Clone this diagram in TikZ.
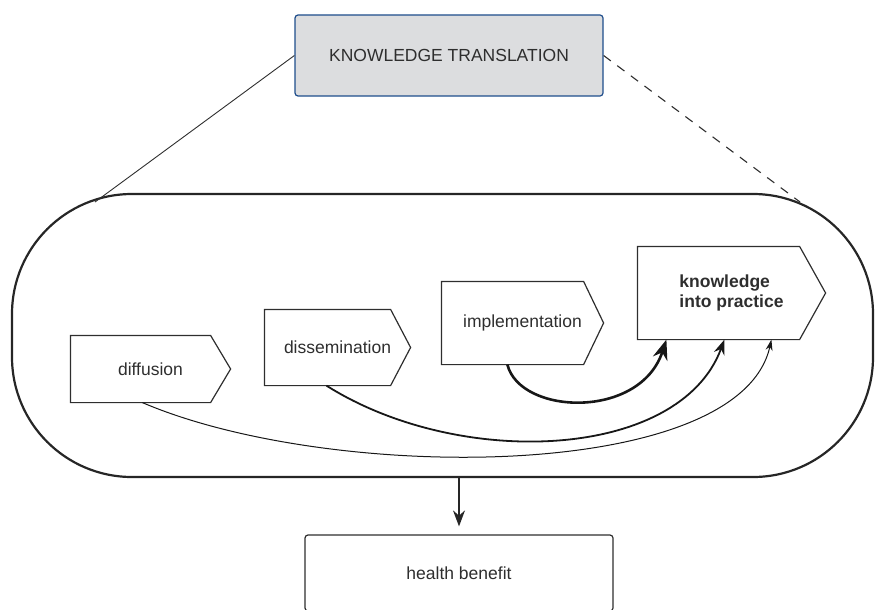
\documentclass[tikz,border=0pt]{standalone}
\usepackage{fontspec}
\setmainfont{Liberation Sans}
\usetikzlibrary{arrows.meta}
\definecolor{ktfill}{HTML}{DCDDDF}
\definecolor{ktblue}{HTML}{1F4E8C}
\definecolor{inkgray}{HTML}{2E2E2E}
\tikzset{%
  >={Stealth[width=12pt,length=16pt]},
  % Specifications for style of nodes:
        base/.style = {rectangle, draw=inkgray, line width=1.2pt, text=inkgray,
                       font=\fontsize{17.5}{20}\selectfont, align=center,
                       inner sep=0pt},
       title/.style = {base, rounded corners=3pt, draw=ktblue, fill=ktfill,
                       minimum width=308pt, minimum height=81pt},
       stage/.style = {base, draw=none, append after command={\pgfextra{%
                       \draw[inkgray, line width=1.2pt] (\tikzlastnode.north west)
                         -- ([xshift=-#1]\tikzlastnode.north east) -- (\tikzlastnode.east)
                         -- ([xshift=-#1]\tikzlastnode.south east) -- (\tikzlastnode.south west) -- cycle;}}},
       stage/.default = 20pt,
     outcome/.style = {base, rounded corners=3pt, minimum width=308pt,
                       minimum height=76pt},
       flow1/.style = {line width=2.6pt, -{Stealth[width=15pt,length=20pt]}},
       flow2/.style = {line width=1.8pt, -{Stealth[width=11pt,length=15pt]}},
       flow3/.style = {line width=1pt, -{Stealth[width=7pt,length=11pt]}},
}

\begin{document}
\begin{tikzpicture}[x=1pt, y=-1pt]
    \useasboundingbox (0,0) rectangle (875,610);

    \node (kt)      [title] at (449,55.5) {KNOWLEDGE TRANSLATION};
    \node (ktscope) [base, draw=black!85, line width=2.2pt, rounded corners=120pt,
                     minimum width=861pt, minimum height=283pt] at (442.5,335.5) {};
    \coordinate (scopeL) at (95,202);
    \coordinate (scopeR) at (800,202);

    \draw[inkgray, line width=0.9pt] (kt.west) -- (scopeL);
    \draw[inkgray, line width=1.1pt, dash pattern=on 9pt off 8pt] (kt.east) -- (scopeR);

    % stages
    \node (diff) [stage, minimum width=159pt, minimum height=66pt] at (150.5,369)  {diffusion};
    \node (diss) [stage, minimum width=145pt, minimum height=75pt] at (337.5,347.5) {dissemination};
    \node (impl) [stage, minimum width=161pt, minimum height=82pt] at (522.5,323)  {implementation};
    \node (kip)  [stage=26pt, minimum width=187pt, minimum height=92pt, align=left,
                  font=\fontsize{17.5}{20}\selectfont\bfseries] at (731.5,293) {knowledge\\into practice};

    \draw[inkgray!50!black, flow1] ([xshift=66pt]impl.south west) .. controls (520,415) and (640,420) .. ([xshift=29pt]kip.south west);
    \draw[inkgray!50!black, flow2] ([xshift=62pt]diss.south west) .. controls (460,470) and (680,460) .. ([xshift=87pt]kip.south west);
    \draw[inkgray!50!black, flow3] ([xshift=72pt]diff.south west) .. controls (330,483) and (740,483) .. ([xshift=134pt]kip.south west);

    \node (hb) [outcome] at (459,573) {health benefit};
    \draw[->, black!85, line width=1.6pt, shorten >=8pt] (hb.north |- ktscope.south) -- (hb.north);

\end{tikzpicture}
\end{document}
